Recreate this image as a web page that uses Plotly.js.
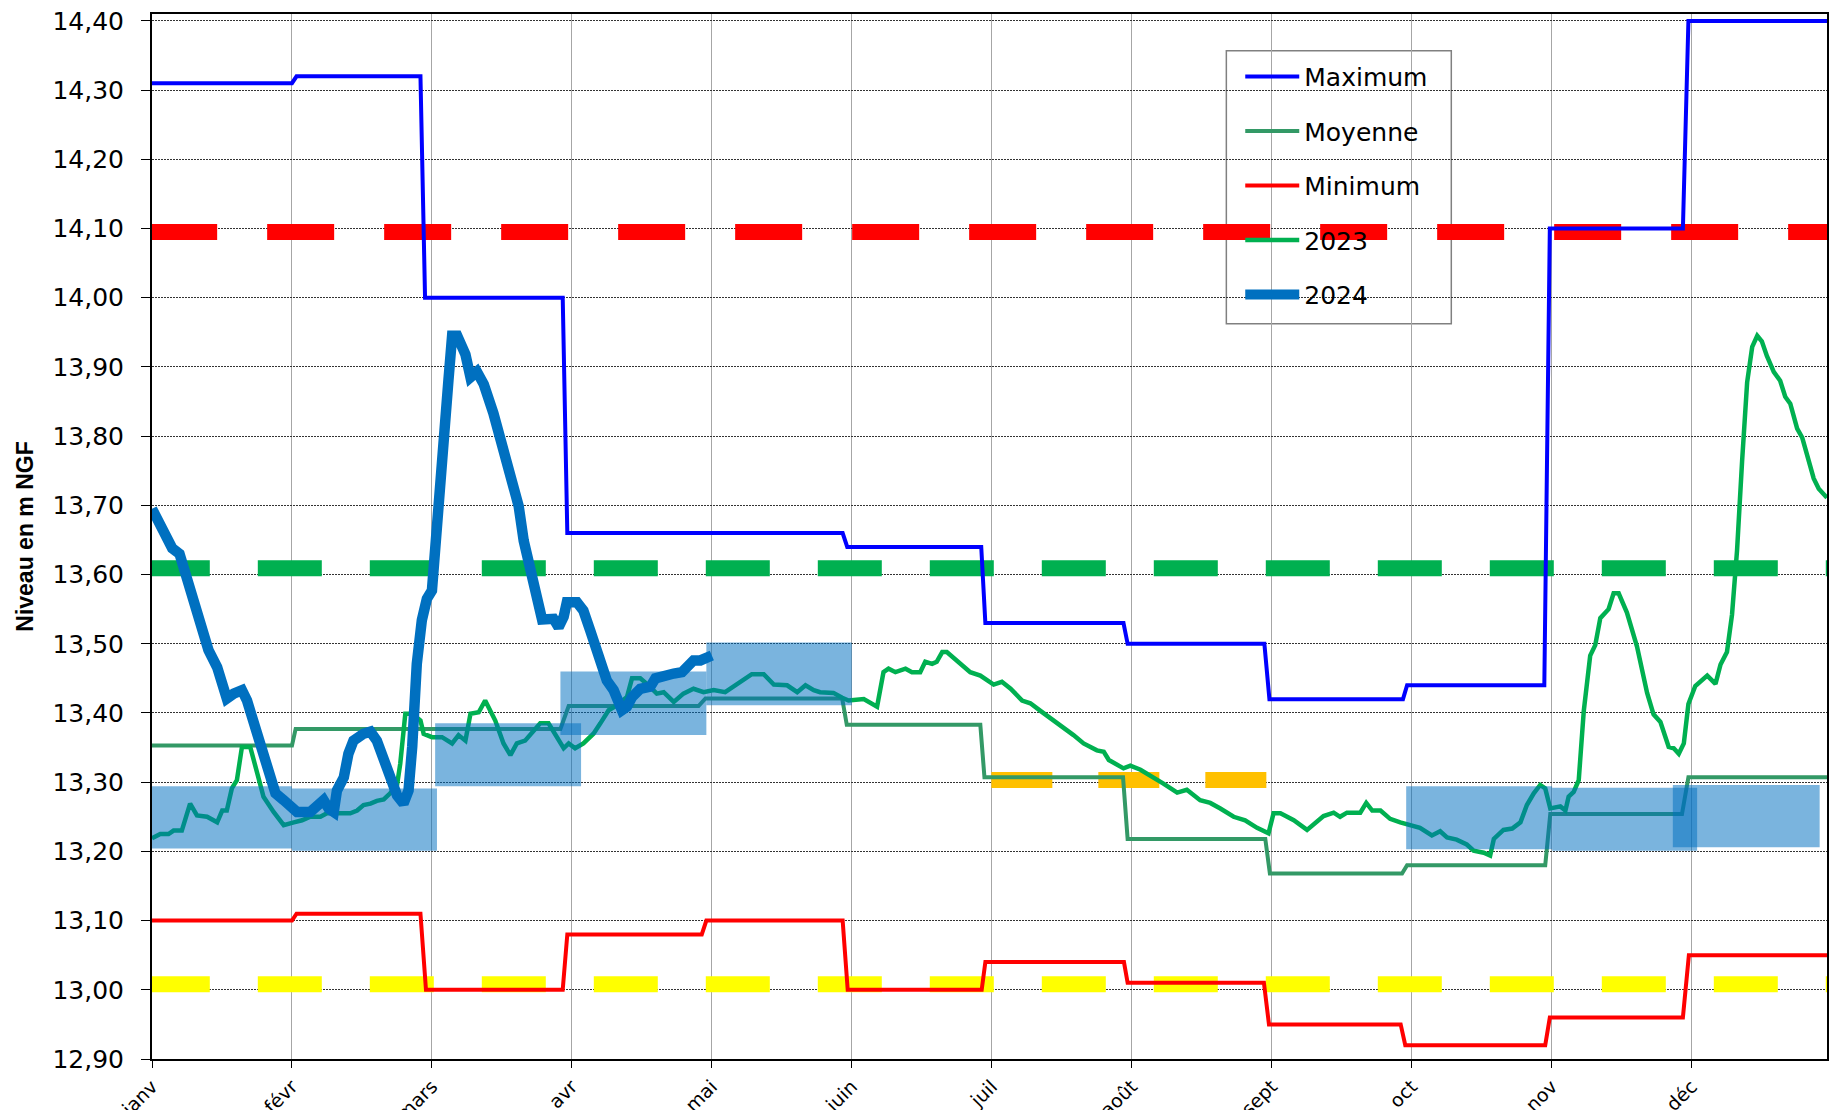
<!DOCTYPE html>
<html>
<head>
<meta charset="utf-8">
<script src="https://cdn.plot.ly/plotly-3.0.1.min.js"></script>
<style>html,body{margin:0;padding:0;background:#fff;}#chart{width:1845px;height:1110px;}</style>
</head>
<body>
<div id="chart"></div>
<script>
// ---- x axis : day index of the year, month ticks ----
const monthTickDays = [0, 30.5, 61, 91.5, 122, 152.5, 183, 213.5, 244, 274.5, 305, 335.5];
const monthLabels = ["janv", "févr", "mars", "avr", "mai", "juin", "juil", "août", "sept", "oct", "nov", "déc"];

// ---- Maximum (step curve) ----
const maxDays = [0, 30.5, 31.5, 58.5, 59.5, 89.5, 90.5, 150.5, 151.5, 180.7, 181.6, 211.7, 212.6, 242.4, 243.5, 272.6, 273.5, 303.4, 304.6, 333.6, 334.8, 365];
const maxValues = [14.31, 14.31, 14.32, 14.32, 14.00, 14.00, 13.66, 13.66, 13.64, 13.64, 13.53, 13.53, 13.50, 13.50, 13.42, 13.42, 13.44, 13.44, 14.10, 14.10, 14.40, 14.40];

// ---- Moyenne (step curve) ----
const meanDays = [0, 30.5, 31.3, 89, 90.8, 119.1, 120.6, 150.4, 151.4, 180.5, 181.4, 211.6, 212.6, 242.6, 243.6, 272.4, 273.5, 303.6, 304.7, 333.4, 334.8, 365];
const meanValues = [13.353, 13.353, 13.377, 13.377, 13.410, 13.410, 13.421, 13.421, 13.383, 13.383, 13.307, 13.307, 13.218, 13.218, 13.168, 13.168, 13.180, 13.180, 13.254, 13.254, 13.307, 13.307];

// ---- Minimum (step curve) ----
const minDays = [0, 30.5, 31.5, 58.5, 59.7, 89.5, 90.5, 119.8, 120.8, 150.5, 151.6, 180.8, 181.6, 211.8, 212.6, 242.3, 243.4, 272.1, 273.1, 303.6, 304.6, 333.6, 334.9, 365];
const minValues = [13.10, 13.10, 13.11, 13.11, 13.00, 13.00, 13.08, 13.08, 13.10, 13.10, 13.00, 13.00, 13.04, 13.04, 13.01, 13.01, 12.95, 12.95, 12.92, 12.92, 12.96, 12.96, 13.05, 13.05];

// ---- 2023 ----
const days2023 = [0, 1.8, 3.6, 4.7, 6.5, 7.3, 8.3, 9.8, 12.0, 14.2, 15.3, 16.3, 17.4, 18.5, 19.6, 21.4, 22.9, 24.3, 26.5, 28.7, 30.9, 32.7, 34.5, 36.7, 38.1, 43.2, 44.7, 46.1, 47.6, 49.0, 50.5, 51.9, 53.4, 54.1, 55.2, 56.7, 58.5, 59.2, 61.0, 63.2, 65.4, 66.8, 68.3, 69.4, 71.2, 72.6, 74.8, 76.6, 78.1, 79.5, 81.3, 83.2, 84.6, 86.4, 88.3, 89.7, 90.8, 92.2, 94.0, 96.2, 97.7, 99.5, 101.3, 103.5, 104.6, 106.4, 108.2, 110.0, 111.5, 113.7, 115.8, 118.0, 120.2, 122.4, 124.9, 126.7, 128.9, 130.7, 133.3, 135.5, 138.4, 140.6, 142.4, 144.2, 145.6, 148.5, 150.4, 151.8, 155.1, 158.0, 159.4, 160.5, 162.0, 164.2, 165.6, 167.4, 168.5, 170.0, 171.0, 172.2, 173.2, 174.7, 177.2, 178.3, 180.5, 182.3, 183.4, 185.2, 187.1, 189.6, 191.4, 193.6, 197.2, 200.8, 203.0, 205.9, 207.4, 208.5, 211.7, 213.2, 215.4, 217.5, 220.4, 223.4, 225.5, 228.4, 230.6, 232.8, 235.7, 238.2, 240.8, 243.3, 244.4, 245.9, 248.8, 251.7, 253.5, 255.3, 257.5, 258.9, 260.4, 263.3, 264.6, 265.9, 267.7, 269.8, 272.0, 274.2, 276.3, 278.9, 280.7, 282.2, 284.3, 286.5, 288.0, 290.2, 291.6, 292.4, 294.5, 296.4, 298.2, 299.6, 301.1, 302.5, 303.6, 304.7, 306.9, 308.0, 308.7, 309.8, 310.9, 312.0, 313.4, 314.5, 315.6, 317.4, 318.5, 319.6, 321.4, 323.6, 325.8, 327.2, 328.7, 330.5, 331.6, 332.7, 333.8, 334.8, 336.3, 338.9, 340.7, 341.8, 343.2, 344.3, 345.4, 346.5, 347.6, 348.7, 349.8, 350.8, 351.9, 353.4, 354.8, 355.9, 357.0, 358.5, 359.6, 362.1, 363.2, 365.0];
const values2023 = [13.219, 13.225, 13.225, 13.230, 13.230, 13.250, 13.269, 13.252, 13.250, 13.242, 13.259, 13.259, 13.291, 13.303, 13.351, 13.351, 13.312, 13.279, 13.257, 13.238, 13.242, 13.245, 13.250, 13.250, 13.255, 13.255, 13.259, 13.267, 13.269, 13.273, 13.275, 13.284, 13.296, 13.327, 13.399, 13.399, 13.389, 13.370, 13.365, 13.365, 13.356, 13.368, 13.360, 13.399, 13.401, 13.418, 13.389, 13.356, 13.339, 13.356, 13.360, 13.375, 13.385, 13.385, 13.363, 13.349, 13.356, 13.349, 13.356, 13.370, 13.385, 13.404, 13.411, 13.423, 13.450, 13.450, 13.440, 13.428, 13.430, 13.416, 13.428, 13.435, 13.430, 13.433, 13.430, 13.438, 13.447, 13.456, 13.456, 13.441, 13.440, 13.430, 13.440, 13.433, 13.430, 13.429, 13.422, 13.418, 13.420, 13.409, 13.459, 13.464, 13.459, 13.464, 13.459, 13.459, 13.474, 13.471, 13.474, 13.488, 13.488, 13.479, 13.464, 13.459, 13.454, 13.447, 13.441, 13.445, 13.435, 13.418, 13.414, 13.403, 13.386, 13.368, 13.356, 13.346, 13.344, 13.332, 13.320, 13.324, 13.318, 13.310, 13.298, 13.285, 13.289, 13.274, 13.270, 13.262, 13.250, 13.245, 13.234, 13.226, 13.255, 13.255, 13.245, 13.231, 13.240, 13.251, 13.256, 13.250, 13.256, 13.256, 13.270, 13.259, 13.259, 13.247, 13.242, 13.238, 13.234, 13.223, 13.229, 13.220, 13.217, 13.210, 13.201, 13.198, 13.194, 13.218, 13.231, 13.233, 13.242, 13.267, 13.284, 13.296, 13.291, 13.262, 13.265, 13.259, 13.279, 13.286, 13.303, 13.403, 13.483, 13.498, 13.537, 13.550, 13.573, 13.573, 13.545, 13.496, 13.429, 13.398, 13.387, 13.351, 13.349, 13.341, 13.356, 13.413, 13.439, 13.454, 13.442, 13.470, 13.488, 13.542, 13.635, 13.764, 13.878, 13.929, 13.945, 13.937, 13.916, 13.893, 13.880, 13.857, 13.847, 13.811, 13.798, 13.739, 13.724, 13.711];

// ---- 2024 ----
const days2024 = [0, 2.5, 4.4, 6.0, 7.3, 8.7, 10.5, 12.3, 14.2, 15.3, 16.3, 17.8, 19.6, 20.7, 21.8, 22.9, 24.3, 25.8, 26.9, 28.7, 31.6, 34.5, 36.0, 37.4, 38.5, 39.6, 40.3, 41.8, 42.8, 43.9, 46.1, 47.6, 49.0, 50.5, 51.9, 53.4, 54.8, 55.9, 56.7, 57.7, 58.8, 59.9, 61.0, 61.7, 62.5, 63.5, 64.6, 65.4, 66.5, 68.3, 69.4, 70.8, 72.3, 74.4, 76.6, 78.4, 79.9, 81.0, 82.4, 83.9, 85.0, 87.5, 88.6, 89.7, 90.4, 92.6, 94.0, 95.5, 97.0, 98.1, 99.1, 100.6, 101.7, 102.4, 103.5, 104.6, 106.4, 108.6, 109.7, 112.2, 113.7, 115.5, 116.6, 118.0, 119.5, 120.6, 122.0];
const values2024 = [13.695, 13.659, 13.638, 13.630, 13.601, 13.563, 13.524, 13.491, 13.466, 13.442, 13.421, 13.428, 13.433, 13.418, 13.394, 13.380, 13.346, 13.312, 13.284, 13.274, 13.257, 13.257, 13.264, 13.274, 13.262, 13.257, 13.288, 13.307, 13.341, 13.360, 13.370, 13.373, 13.360, 13.336, 13.307, 13.281, 13.269, 13.288, 13.351, 13.471, 13.534, 13.565, 13.577, 13.640, 13.736, 13.833, 13.881, 13.945, 13.945, 13.918, 13.885, 13.893, 13.875, 13.833, 13.783, 13.734, 13.699, 13.649, 13.609, 13.569, 13.535, 13.536, 13.524, 13.539, 13.560, 13.560, 13.548, 13.519, 13.491, 13.462, 13.447, 13.433, 13.414, 13.404, 13.409, 13.423, 13.435, 13.438, 13.450, 13.452, 13.457, 13.459, 13.466, 13.476, 13.476, 13.479, 13.483];

// ---- dashed threshold lines ----
const thresholdLevels = [14.095, 13.609, 13.008, 13.303];
const thresholdStart = [-0.4, -1.35, -1.35, 182.9];
const thresholdEnd = [365, 365, 365, 243];

// ---- monthly target bands ----
const bandStart = [-1.5, 30.5, 61.7, 89.0, 120.8, 273.3, 305.1, 331.4];
const bandEnd = [30.5, 62.1, 93.5, 120.8, 152.5, 305.1, 336.7, 363.4];
const bandLow = [13.204, 13.201, 13.294, 13.368, 13.411, 13.203, 13.201, 13.206];
const bandHigh = [13.294, 13.291, 13.385, 13.460, 13.502, 13.294, 13.292, 13.296];

// ---- build traces ----
const thresholdStyles = [
  {color: '#FF0000', dash: '67px,50px'},
  {color: '#00B050', dash: '64px,48px'},
  {color: '#FFFF00', dash: '64px,48px'},
  {color: '#FFC000', dash: '61px,46px'}
];
const traces = [];
thresholdLevels.forEach((lvl, i) => {
  traces.push({
    x: [thresholdStart[i], thresholdEnd[i]], y: [lvl, lvl],
    mode: 'lines', type: 'scatter', showlegend: false, hoverinfo: 'skip',
    line: {color: thresholdStyles[i].color, width: 16, dash: thresholdStyles[i].dash}
  });
});
traces.push({x: maxDays, y: maxValues, name: 'Maximum', legendgroup: 'a', mode: 'lines', type: 'scatter', line: {color: '#0000FF', width: 4}});
traces.push({x: meanDays, y: meanValues, name: 'Moyenne', legendgroup: 'b', mode: 'lines', type: 'scatter', line: {color: '#339966', width: 4}});
traces.push({x: minDays, y: minValues, name: 'Minimum', legendgroup: 'c', mode: 'lines', type: 'scatter', line: {color: '#FF0000', width: 4}});
traces.push({x: days2023, y: values2023, name: '2023', legendgroup: 'd', mode: 'lines', type: 'scatter', line: {color: '#00B050', width: 4.5}});
traces.push({x: days2024, y: values2024, name: '2024', legendgroup: 'e', mode: 'lines', type: 'scatter', line: {color: '#0070C0', width: 10.5}});
bandStart.forEach((s, i) => {
  traces.push({
    x: [s, bandEnd[i], bandEnd[i], s, s],
    y: [bandLow[i], bandLow[i], bandHigh[i], bandHigh[i], bandLow[i]],
    mode: 'lines', type: 'scatter', fill: 'toself', showlegend: false, hoverinfo: 'skip',
    fillcolor: 'rgba(0,112,192,0.52)', line: {width: 0, color: 'rgba(0,0,0,0)'}
  });
});

const layout = {
  width: 1845, height: 1110,
  margin: {l: 152, r: 18, t: 14, b: 51, pad: 0},
  paper_bgcolor: '#ffffff', plot_bgcolor: '#ffffff',
  separators: ', ',
  showlegend: true,
  font: {family: 'DejaVu Sans', size: 24, color: '#000'},
  xaxis: {
    range: [0, 365], tickmode: 'array', tickvals: monthTickDays, ticktext: monthLabels,
    tickangle: -45, tickfont: {family: 'DejaVu Sans', size: 19, color: '#000'},
    showgrid: true, gridcolor: '#A6A6A6', gridwidth: 1, zeroline: false,
    showline: true, linecolor: '#000', linewidth: 2, mirror: true,
    ticks: 'outside', ticklen: 7, tickcolor: '#000', tickwidth: 1,
    automargin: false, fixedrange: true
  },
  yaxis: {
    range: [12.90, 14.41], tick0: 12.9, dtick: 0.1, tickformat: '.2f',
    tickfont: {family: 'DejaVu Sans', size: 25, color: '#000'},
    showgrid: true, gridcolor: '#333', gridwidth: 1, griddash: '2px,1px', zeroline: false,
    showline: true, linecolor: '#000', linewidth: 2, mirror: true,
    ticks: 'outside', ticklen: 9, tickcolor: '#000', tickwidth: 1, ticklabelstandoff: 12,
    title: {text: 'Niveau en m NGF', font: {family: 'Liberation Sans', size: 23, weight: 700, color: '#000'}, standoff: 12},
    automargin: false, fixedrange: true
  },
  shapes: [{
    type: 'rect', xref: 'paper', yref: 'paper', layer: 'between',
    x0: 0.6414, x1: 0.7757, y0: 0.7037, y1: 0.9648,
    fillcolor: '#ffffff', line: {color: '#808080', width: 1.5}
  }],
  legend: {
    x: 0.6497, y: 0.962, xanchor: 'left', yanchor: 'top',
    bgcolor: 'rgba(0,0,0,0)', borderwidth: 0,
    font: {family: 'DejaVu Sans', size: 25, color: '#000'},
    itemwidth: 54, tracegroupgap: 19, traceorder: 'grouped'
  }
};

Plotly.newPlot('chart', traces, layout, {staticPlot: true, displayModeBar: false});
</script>
</body>
</html>
